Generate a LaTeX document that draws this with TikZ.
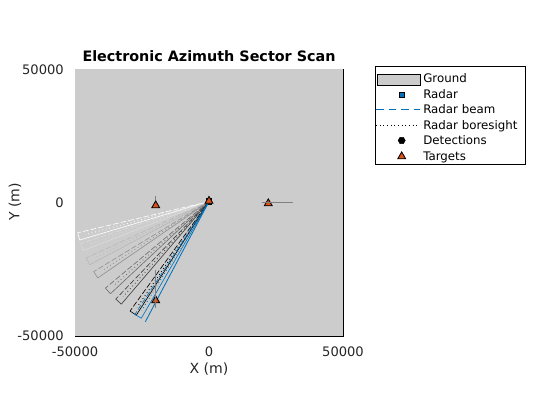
\documentclass[tikz,border=0pt]{standalone}
\usepackage{fontspec}
\setmainfont{DejaVu Sans}
\usetikzlibrary{calc,positioning,shapes.geometric}
\definecolor{scground}{RGB}{204,204,204}
\definecolor{scblue}{RGB}{0,114,189}
\definecolor{scorange}{RGB}{217,83,25}
\definecolor{scgray}{RGB}{128,128,128}
\definecolor{sctext}{RGB}{38,38,38}
\tikzset{
  ticklbl/.style={font=\fontsize{9.3}{11}\selectfont,inner sep=0pt,text=sctext},
  axlbl/.style={font=\fontsize{10}{12}\selectfont,inner sep=0pt,text=sctext},
  legtxt/.style={font=\fontsize{8.4}{10}\selectfont,inner sep=0pt,anchor=base west},
  target/.style={regular polygon,regular polygon sides=3,draw=black,
                 fill=scorange,line width=0.6pt,inner sep=0pt,minimum size=6.5pt},
  radarmk/.style={rectangle,draw=black,fill=scblue,line width=0.5pt,
                  inner sep=0pt,minimum size=4pt},
  detmk/.style={regular polygon,regular polygon sides=6,draw=black,fill=black,
                inner sep=0pt,minimum size=5pt},
  beam/.style={line width=0.45pt,dash pattern=on 4pt off 1.5pt},
  beamedge/.style={line width=0.45pt},
  bore/.style={line width=0.6pt,dotted},
  vel/.style={scgray,line width=0.6pt},
}

\begin{document}
\begin{tikzpicture}[x=0.025cm,y=-0.025cm]
  \useasboundingbox (0,0) rectangle (560,420);

  %% Axes
  \fill[scground] (75,69) rectangle (343,336);
  \draw[black,line width=0.5pt] (75,336) -- (343,336) -- (343,69);

  \node[ticklbl,anchor=base east] (ytop) at (64,74.8) {50000};
  \node[ticklbl,anchor=base east] (ymid) at (64,207.3) {0};
  \node[ticklbl,anchor=base east] (ybot) at (64,340.8) {-50000};
  \node[ticklbl,anchor=base] (xleft) at (75,356.5) {-50000};
  \node[ticklbl,anchor=base] (xmid) at (209,356.5) {0};
  \node[ticklbl,anchor=base] (xright) at (343,356.5) {50000};

  \node[axlbl,rotate=90] (ylab) at (15,202) {Y (m)};
  \node[axlbl] (xlab) at (209,369) {X (m)};
  \node[axlbl,text=black,font=\fontsize{10.2}{12}\selectfont\bfseries,anchor=base] (title)
    at (209,62) {Electronic Azimuth Sector Scan};

  %% Radar and beam history
  \node[radarmk] (radar) at (209,201.5) {};

  \foreach \a/\shade [count=\i] in {
    165/0, 160.3/14, 153.7/28, 147.1/43, 138.5/57, 132.1/75, 124.2/100}{
    \draw[beam,black!\shade!white]
      (radar.center) -- ++(\a+1.6:135) coordinate (beam\i u);
    \draw[beamedge,black!\shade!white]
      (radar.center) -- ++(\a-1.6:135) coordinate (beam\i d);
    \draw[beamedge,black!\shade!white] (beam\i u) -- (beam\i d);
    \draw[bore,black!\shade!white]
      (radar.center) -- ++(\a:128) coordinate (bore\i);
  }

  %% Current beam
  \draw[beam,scblue] (radar.center) -- ++(123.3:135) coordinate (beamnowu);
  \draw[beamedge,scblue] (radar.center) -- ++(120.1:135) coordinate (beamnowd);
  \draw[beamedge,scblue] (beamnowu) -- (beamnowd);
  \draw[scblue,line width=0.6pt] (radar.center) -- ++(117.9:136) coordinate (beamnowr);
  \draw[bore,scblue] (radar.center) -- ++(121.7:128) coordinate (borenow);

  %% Targets and their velocities
  \coordinate (velA) at (155.7,196);
  \coordinate (velB) at (292.7,202.3);
  \coordinate (velC) at (155.7,270);
  \coordinate (velD) at (155.7,308);
  \coordinate (velE) at (261.7,202.3);

  \node[target] (tgtA) at (155.7,205.5) {};
  \node[target] (tgtB) at (268.3,203.5) {};
  \node[target] (tgtC) at (155.7,300.5) {};
  \node[target] (tgtR) at (209,201) {};

  \draw[vel] (tgtA.north) -- (velA);
  \draw[vel] (velE) -- (velB);
  \draw[vel] (velC) -- (velD);

  %% Legend
  \draw[black,fill=white,line width=0.5pt] (375,66.7) rectangle (525,164);
  \draw[black,fill=scground,line width=0.5pt] (377,74.3) rectangle (420,85);
  \node[radarmk] (legradar) at (401.7,95) {};
  \coordinate (legbeamA) at (376,109.5);
  \coordinate (legbeamB) at (420,109.5);
  \draw[scblue,line width=0.6pt,dash pattern=on 5.5pt off 3.5pt] (legbeamA) -- (legbeamB);
  \coordinate (legboreA) at (376,125);
  \coordinate (legboreB) at (418,125);
  \draw[bore,black] (legboreA) -- (legboreB);
  \node[detmk] (legdet) at (401.7,140.5) {};
  \node[target] (legtgt) at (401.7,156.5) {};

  \foreach \txt/\y [count=\i] in {
    Ground/78.7, Radar/94.5, Radar beam/109.5, Radar boresight/125,
    Detections/140.5, Targets/156}{
    \node[legtxt] (leg\i) at (423,\y+4.3) {\txt};
  }

\end{tikzpicture}
\end{document}
